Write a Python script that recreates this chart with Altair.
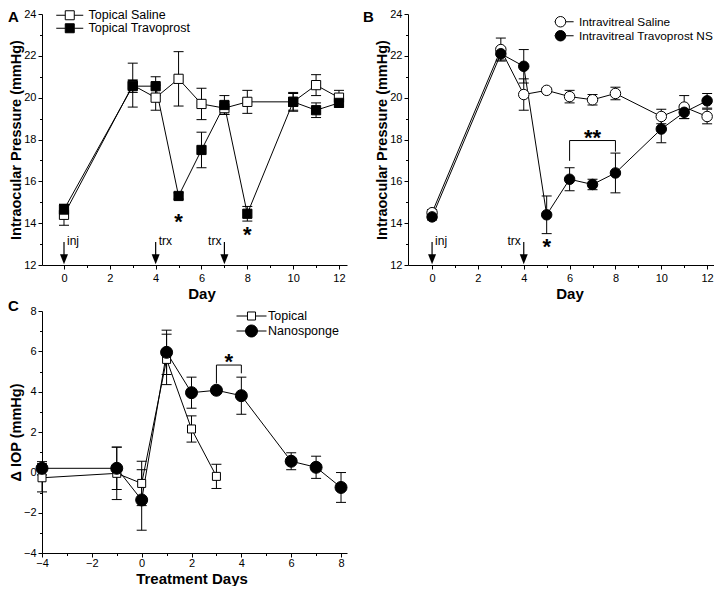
import altair as alt
import pandas as pd

FONT = "Liberation Sans"

# ---------------- Panel A (topical) ----------------
a_days = [0, 3, 4, 5, 6, 7, 8, 10, 11, 12]
a_saline = [14.4, 20.6, 20.0, 20.9, 19.7, 19.5, 19.8, 19.8, 20.6, 20.0]
a_saline_err = [0.5, 1.05, 0.6, 1.3, 0.75, 0.3, 0.55, 0.45, 0.5, 0.35]
a_travo = [14.65, 20.55, 20.55, 15.3, 17.5, 19.65, 14.45, 19.8, 19.4, 19.75]
a_travo_err = [0.25, 0.3, 0.45, 0.15, 0.85, 0.45, 0.35, 0.4, 0.35, 0.2]
a_names = ["Topical Saline", "Topical Travoprost"]
a_arrow_days = [0, 4, 7]
a_arrow_labels = ["inj", "trx", "trx"]
a_arrow_sides = ["right", "right", "left"]
a_star_days = [5, 8]
a_star_y = [14.3, 13.65]
a_star_text = ["*", "*"]

# ---------------- Panel B (intravitreal) ----------------
b_days = [0, 3, 4, 5, 6, 7, 8, 10, 11, 12]
b_saline = [14.5, 22.3, 20.15, 20.35, 20.05, 19.9, 20.2, 19.1, 19.55, 19.1]
b_saline_err = [0.15, 0.55, 0.75, 0.1, 0.3, 0.25, 0.3, 0.35, 0.55, 0.35]
b_travo = [14.3, 22.1, 21.5, 14.4, 16.1, 15.85, 16.4, 18.5, 19.3, 19.85]
b_travo_err = [0.15, 0.3, 0.8, 0.9, 0.55, 0.25, 0.95, 0.65, 0.3, 0.35]
b_names = ["Intravitreal Saline", "Intravitreal Travoprost NS"]
b_arrow_days = [0, 4]
b_arrow_labels = ["inj", "trx"]
b_arrow_sides = ["right", "left"]
b_star_days = [5, 7]
b_star_y = [13.08, 18.3]
b_star_text = ["*", "**"]
b_bracket_days = [6, 8]
b_bracket_top = 17.95
b_bracket_feet = [16.98, 17.42]

# ---------------- Panel C (delta IOP) ----------------
c_top_days = [-4, -1, 0, 1, 2, 3]
c_topical = [-0.27, -0.05, -0.55, 5.6, 2.15, -0.2]
c_topical_err = [0.7, 1.3, 1.1, 1.25, 0.65, 0.6]
c_nano_days = [-4, -1, 0, 1, 2, 3, 4, 6, 7, 8]
c_nano = [0.2, 0.2, -1.37, 5.95, 3.95, 4.07, 3.8, 0.55, 0.25, -0.75]
c_nano_err = [0.33, 1.05, 1.5, 1.1, 0.77, 0.05, 0.92, 0.42, 0.55, 0.74]
c_names = ["Topical", "Nanosponge"]
c_star_days = [3.5]
c_star_y = [5.74]
c_star_text = ["*"]
c_bracket_days = [3, 4]
c_bracket_top = 5.32
c_bracket_feet = [4.41, 4.91]

ARROW_TOP = 13.1
ARROW_BOT = 12.35
ARROW_HEAD = 12.28

SQ_LEG_A = "M-3,0L-1,0M1,0L3,0M-1,-1L1,-1L1,1L-1,1Z"
CIRC_LEG_B = "M-2.5,0L-1,0M1,0L2.5,0M-1,0A1,1,0,1,0,1,0A1,1,0,1,0,-1,0Z"
SQ_LEG_C = "M-2.5,0L-0.67,0M0.67,0L2.5,0M-0.67,-0.67L0.67,-0.67L0.67,0.67L-0.67,0.67Z"
CIRC_LEG_C = "M-2.5,0L-1,0M1,0L2.5,0M-1,0A1,1,0,1,0,1,0A1,1,0,1,0,-1,0Z"
HEAD = "M-0.8,-1L0.8,-1L0,1Z"


def sdf(days, mean, err, name):
    return pd.DataFrame({
        "day": days, "v": mean,
        "lo": [m - e for m, e in zip(mean, err)],
        "hi": [m + e for m, e in zip(mean, err)],
        "s": name,
    })


def make_panel(letter, letter_x, letter_y, series, leg, xdom, ydom, w, h,
               xmaj, xmin, ymaj, ymin, xtitle, ytitle, xtitle_x, xtitle_y,
               xlabel_pad, arrows=None, stars=None, bracket=None):
    xs = alt.Scale(domain=xdom, nice=False, zero=False)
    ys = alt.Scale(domain=ydom, nice=False, zero=False)
    all_df = pd.concat([s["df"] for s in series], ignore_index=True)

    def X(field, axis=None):
        return alt.X(field, type="quantitative", scale=xs, axis=axis)

    def Y(field, axis=None):
        return alt.Y(field, type="quantitative", scale=ys, axis=axis)

    minor_x = alt.Axis(values=xmin, tickSize=2.5, labels=False, domain=False,
                       grid=False, orient="bottom", title=None, tickColor="black")
    minor_y = alt.Axis(values=ymin, tickSize=2.5, labels=False, domain=False,
                       grid=False, orient="left", title=None, tickColor="black")
    major_x = alt.Axis(values=xmaj, tickSize=4, labelPadding=xlabel_pad, labelFontSize=11,
                       labelFont=FONT, labelColor="black", labelFlush=False, labelOverlap=False,
                       grid=False, orient="bottom", domainColor="black", tickColor="black",
                       title=xtitle, titleFont=FONT, titleFontSize=15, titleFontWeight="bold",
                       titleColor="black", titleX=xtitle_x, titleY=xtitle_y,
                       titleBaseline="alphabetic")
    major_y = alt.Axis(values=ymaj, tickSize=4, labelPadding=2, labelFontSize=11,
                       labelFont=FONT, labelColor="black", labelFlush=False, labelOverlap=False,
                       grid=False, orient="left", domainColor="black", tickColor="black",
                       title=ytitle, titleFont=FONT, titleFontSize=14.5, titleFontWeight="bold",
                       titleColor="black", titleX=-19, titleY=h / 2)

    layers = [
        alt.Chart(all_df).mark_point(opacity=0).encode(x=X("day", minor_x), y=Y("v", minor_y)),
        alt.Chart(all_df).mark_point(opacity=0).encode(x=X("day", major_x), y=Y("v", major_y)),
    ]
    for s in series:
        d = s["df"]
        layers.append(alt.Chart(d).mark_rule(color="black", strokeWidth=1).encode(
            x=X("day"), y=Y("lo"), y2="hi"))
        layers.append(alt.Chart(d).mark_tick(orient="horizontal", size=10, thickness=1,
                                             color="black", opacity=1).encode(x=X("day"), y=Y("lo")))
        layers.append(alt.Chart(d).mark_tick(orient="horizontal", size=10, thickness=1,
                                             color="black", opacity=1).encode(x=X("day"), y=Y("hi")))
        layers.append(alt.Chart(d).mark_line(color="black", strokeWidth=1).encode(
            x=X("day"), y=Y("v")))
    for s in series:
        layers.append(alt.Chart(s["df"]).mark_point(
            shape=s["shape"], size=s["size"], filled=True, fill=s["fill"],
            stroke="black", strokeWidth=1, opacity=1).encode(x=X("day"), y=Y("v")))

    if arrows is not None:
        adays, alabels, asides = arrows
        adf = pd.DataFrame({"day": adays, "lab": alabels, "side": asides,
                            "top": ARROW_TOP, "bot": ARROW_BOT, "head": ARROW_HEAD})
        layers.append(alt.Chart(adf).mark_rule(color="black", strokeWidth=1.2).encode(
            x=X("day"), y=Y("top"), y2="bot"))
        layers.append(alt.Chart(adf).mark_point(shape=HEAD, size=100, filled=True,
                                                color="black", opacity=1).encode(
            x=X("day"), y=Y("head")))
        layers.append(alt.Chart(adf).transform_filter("datum.side == 'right'").mark_text(
            font=FONT, fontSize=12, align="left", baseline="middle", dx=3, dy=-1,
            color="black").encode(x=X("day"), y=Y("top"), text="lab:N"))
        layers.append(alt.Chart(adf).transform_filter("datum.side == 'left'").mark_text(
            font=FONT, fontSize=12, align="right", baseline="middle", dx=-3, dy=-1,
            color="black").encode(x=X("day"), y=Y("top"), text="lab:N"))

    if stars is not None:
        sdays, sy, stext = stars
        stdf = pd.DataFrame({"day": sdays, "y": sy, "t": stext})
        layers.append(alt.Chart(stdf).mark_text(
            font=FONT, fontSize=22, fontWeight="bold", align="center",
            baseline="alphabetic", dy=12, color="black").encode(
            x=X("day"), y=Y("y"), text="t:N"))

    if bracket is not None:
        bdays, btop, bfeet = bracket
        bh = pd.DataFrame({"d1": [bdays[0]], "d2": [bdays[1]], "top": [btop]})
        bl = pd.DataFrame({"day": bdays, "foot": bfeet, "top": btop})
        layers.append(alt.Chart(bh).mark_rule(color="black", strokeWidth=1).encode(
            x=X("d1"), x2="d2", y=Y("top")))
        layers.append(alt.Chart(bl).mark_rule(color="black", strokeWidth=1).encode(
            x=X("day"), y=Y("foot"), y2="top"))

    # legend (drawn by the library's legend, fed by an empty layer)
    names = [s["name"] for s in series]
    leg_kw = dict(title=None, orient="none", legendX=leg["x"], legendY=leg["y"], padding=0,
                  labelFont=FONT, labelFontSize=leg["font"], labelColor="black",
                  labelOffset=leg["offset"], rowPadding=leg["rowpad"],
                  symbolSize=leg["size"], symbolStrokeColor="black", symbolStrokeWidth=1)
    if "clip" in leg:
        leg_kw["clipHeight"] = leg["clip"]
    lg = alt.Legend(**leg_kw)
    layers.append(alt.Chart(pd.DataFrame({"s": names})).transform_filter("false").mark_point(
        filled=True, strokeWidth=1, size=leg["size"], opacity=1).encode(
        shape=alt.Shape("s:N", scale=alt.Scale(domain=names, range=leg["paths"]), legend=lg),
        fill=alt.Fill("s:N", scale=alt.Scale(domain=names, range=[s["fill"] for s in series]),
                      legend=lg),
        stroke=alt.Stroke("s:N", scale=alt.Scale(domain=names, range=["black", "black"]),
                          legend=lg)))

    # panel letter
    layers.append(alt.Chart(pd.DataFrame({"t": [letter]})).mark_text(
        font=FONT, fontSize=15, fontWeight="bold", align="left", baseline="alphabetic",
        color="black").encode(x=alt.value(letter_x), y=alt.value(letter_y), text="t:N"))

    return alt.layer(*layers).resolve_axis(x="independent", y="independent").properties(
        width=w, height=h)


panel_a = make_panel(
    "A", -34, 8,
    [
        {"df": sdf(a_days, a_saline, a_saline_err, a_names[0]), "name": a_names[0],
         "shape": "square", "size": 85, "fill": "white"},
        {"df": sdf(a_days, a_travo, a_travo_err, a_names[1]), "name": a_names[1],
         "shape": "square", "size": 85, "fill": "black"},
    ],
    {"x": 21.5, "y": -5, "offset": 12.5, "rowpad": -1, "size": 81, "font": 12.5,
     "paths": [SQ_LEG_A, SQ_LEG_A]},
    [-0.96, 12.35], [12, 24], 305, 251,
    list(range(0, 13, 2)), list(range(1, 12, 2)),
    list(range(12, 25, 2)), list(range(13, 24, 2)),
    "Day", "Intraocular Pressure (mmHg)", 159.5, 33, 3,
    arrows=(a_arrow_days, a_arrow_labels, a_arrow_sides),
    stars=(a_star_days, a_star_y, a_star_text),
)

panel_b = make_panel(
    "B", -45, 8,
    [
        {"df": sdf(b_days, b_saline, b_saline_err, b_names[0]), "name": b_names[0],
         "shape": "circle", "size": 110, "fill": "white"},
        {"df": sdf(b_days, b_travo, b_travo_err, b_names[1]), "name": b_names[1],
         "shape": "circle", "size": 110, "fill": "black"},
    ],
    {"x": 146.5, "y": 1.5, "offset": 12.5, "rowpad": 0, "size": 110, "font": 11.8,
     "clip": 12.5, "paths": [CIRC_LEG_B, CIRC_LEG_B]},
    [-1.05, 12.3], [12, 24], 306, 251,
    list(range(0, 13, 2)), list(range(1, 12, 2)),
    list(range(12, 25, 2)), list(range(13, 24, 2)),
    "Day", "Intraocular Pressure (mmHg)", 161.5, 33, 3,
    arrows=(b_arrow_days, b_arrow_labels, b_arrow_sides),
    stars=(b_star_days, b_star_y, b_star_text),
    bracket=(b_bracket_days, b_bracket_top, b_bracket_feet),
)

panel_c = make_panel(
    "C", -34, 0,
    [
        {"df": sdf(c_top_days, c_topical, c_topical_err, c_names[0]), "name": c_names[0],
         "shape": "square", "size": 64, "fill": "white"},
        {"df": sdf(c_nano_days, c_nano, c_nano_err, c_names[1]), "name": c_names[1],
         "shape": "circle", "size": 144, "fill": "black"},
    ],
    {"x": 203, "y": -1.5, "offset": 10, "rowpad": 0, "size": 144, "font": 12.5,
     "paths": [SQ_LEG_C, CIRC_LEG_C]},
    [-4, 8.24], [-4, 8], 305, 242,
    list(range(-4, 9, 2)), list(range(-3, 8, 2)),
    list(range(-4, 9, 2)), list(range(-3, 8, 2)),
    "Treatment Days", "\u0394 IOP (mmHg)", 149.5, 30, 0,
    stars=(c_star_days, c_star_y, c_star_text),
    bracket=(c_bracket_days, c_bracket_top, c_bracket_feet),
)

chart = alt.concat(
    panel_a, panel_b, panel_c, columns=2,
    spacing={"row": 46, "column": 61}, bounds="flush",
).resolve_scale(
    shape="independent", fill="independent", stroke="independent"
).configure_view(
    stroke="transparent"
).properties(
    autosize=alt.AutoSizeParams(type="none"),
    padding={"left": 34, "top": 6, "right": 672, "bottom": 572},
    background="white",
)

chart.save("out.html", embed_options={"renderer": "svg", "actions": False})
